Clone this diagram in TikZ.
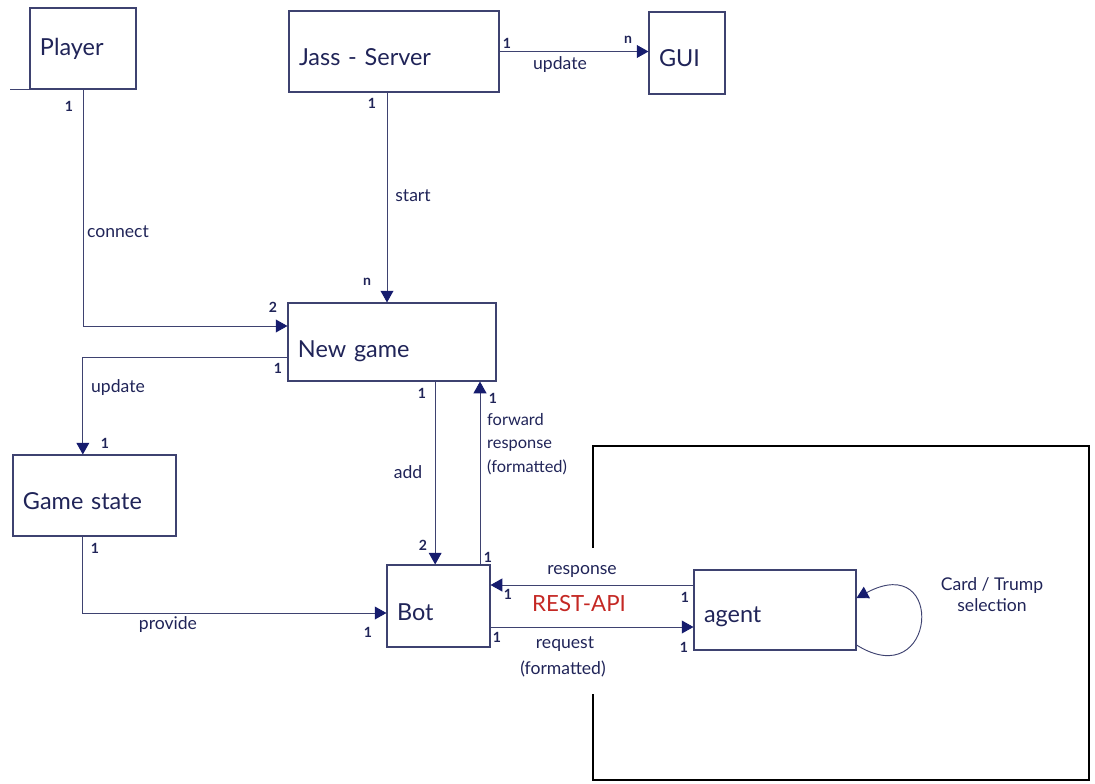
\documentclass[tikz,border=0pt]{standalone}
\usepackage{fontspec}
\setmainfont{Lato}
\usetikzlibrary{arrows.meta}

\definecolor{ink}{RGB}{32,36,88}
\definecolor{wire}{RGB}{62,66,112}
\definecolor{tipblue}{RGB}{22,28,110}
\definecolor{apired}{RGB}{196,40,36}

% shift a box label down without changing its size
\newcommand{\lowered}[2]{\raisebox{-#1}[\height][\depth]{#2}}

\tikzset{
  box/.style={draw=wire, line width=0.9pt, inner xsep=0.3cm, inner ysep=0pt, align=left,
    font=\fontsize{20}{23}\selectfont, text=ink},
  conn/.style={draw=wire, line width=0.8pt, -{Triangle[length=10pt,width=11pt,color=tipblue]}},
  plain/.style={draw=wire, line width=0.8pt},
  mult/.style={font=\fontsize{12}{14}\selectfont\bfseries, text=ink, inner sep=0pt},
  lbl/.style={font=\fontsize{15}{18}\selectfont, text=ink, inner sep=0pt},
}

\begin{document}
\begin{tikzpicture}[x=0.03cm, y=-0.03cm]
\useasboundingbox (0,0) rectangle (1095,783);

% boxes
\node[box, text width=2.58cm, minimum height=2.43cm] (player) at (83,48.5) {Player};
\node[box, text width=5.7cm, minimum height=2.43cm] (server) at (394,51.5) {\lowered{5pt}{Jass - Server}};
\node[box, text width=1.68cm, minimum height=2.46cm] (gui) at (687,53) {\lowered{4pt}{GUI}};
\node[box, text width=5.64cm, minimum height=2.34cm] (game) at (392,342) {\lowered{8pt}{New game}};
\node[box, text width=4.29cm, minimum height=2.43cm] (state) at (94.5,495.5) {\lowered{5pt}{Game state}};
\node[box, text width=2.49cm, minimum height=2.46cm] (bot) at (438.5,606) {\lowered{5pt}{Bot}};
\node[box, text width=4.26cm, minimum height=2.4cm] (agent) at (775,610) {\lowered{6pt}{agent}};
\draw[plain] (player.south west) -- ++(-19,0);

% frame round the agent
\draw[black, line width=2pt] (593,548) -- (593,446) -- (1089,446) -- (1089,780) -- (593,780) -- (593,694);

% connectors
\draw[conn] (player.south) |- ([yshift=0.48cm]game.west);
\draw[conn] ([xshift=-0.21cm]server.south) -- ([xshift=-0.21cm]server.south |- game.north);
\draw[conn] (server.east) -- (server.east -| gui.west);
\draw[conn] ([yshift=-0.45cm]game.west) -| ([xshift=-0.35cm]state.north);
\draw[conn] ([xshift=-0.35cm]state.south) |- ([yshift=-0.21cm]bot.west);
\draw[conn] ([xshift=-0.1cm]bot.north |- game.south) -- ([xshift=-0.1cm]bot.north);
\draw[conn] ([xshift=1.245cm]bot.north) -- ([xshift=1.245cm]bot.north |- game.south);
\draw[conn] ([yshift=0.75cm]agent.west) -- ([yshift=0.75cm]agent.west -| bot.east);
\draw[conn] ([yshift=-0.51cm]agent.west -| bot.east) -- ([yshift=-0.51cm]agent.west);
\draw[conn] ([yshift=-1.05cm]agent.east) .. controls +(80,50) and +(90,-48) .. ([yshift=0.36cm]agent.east);

% labels
\node[lbl] (connect) at (118,232) {connect};
\node[lbl] (start) at (413,196) {start};
\node[lbl] (upgui) at (560,65) {update};
\node[lbl] (upstate) at (118,388) {update};
\node[lbl] (provide) at (168,625) {provide};
\node[lbl] (add) at (408,472) {add};
\node[lbl, anchor=north west, align=left, font=\fontsize{14}{20}\selectfont] (forward) at (487,413) {forward\\response\\(formatted)};
\node[lbl] (response) at (582,571) {response};
\node[lbl] (request) at (565,644) {request};
\node[lbl] (reqfmt) at (563,669) {(formatted)};
\node[font=\fontsize{19}{22}\selectfont, text=apired, inner sep=0pt] (rest) at (579,604) {REST-API};
\node[lbl, align=center] (select) at (992,595) {Card / Trump\\selection};

% multiplicities
\node[mult] (mp) at (69,106) {1};
\node[mult] (mg2) at (273,307) {2};
\node[mult] (mg1) at (278,368) {1};
\node[mult] (ms1) at (105,443) {1};
\node[mult] (mj1) at (372,103) {1};
\node[mult] (mgn) at (367,282) {n};
\node[mult] (mj2) at (507,43) {1};
\node[mult] (mgui) at (628,40) {n};
\node[mult] (ma1) at (422,393) {1};
\node[mult] (mf1) at (493,398) {1};
\node[mult] (mb2) at (423,545) {2};
\node[mult] (mf2) at (488,557) {1};
\node[mult] (mr1) at (508,594) {1};
\node[mult] (mr2) at (685,597) {1};
\node[mult] (mq1) at (497,637) {1};
\node[mult] (mq2) at (684,647) {1};
\node[mult] (ms2) at (95,548) {1};
\node[mult] (mb1) at (368,632) {1};
\end{tikzpicture}
\end{document}
